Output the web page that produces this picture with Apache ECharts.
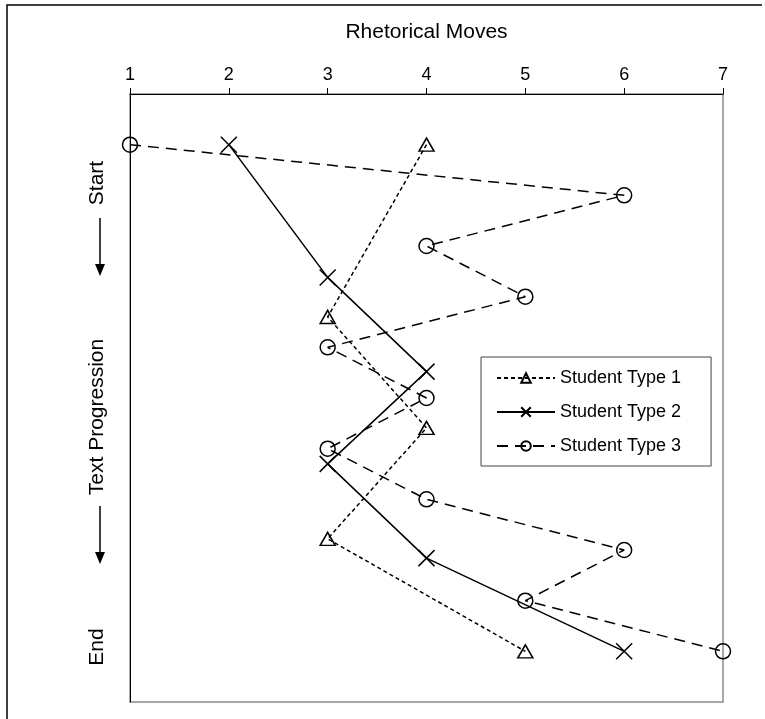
<!DOCTYPE html>
<html>
<head>
<meta charset="utf-8">
<script src="https://cdn.jsdelivr.net/npm/echarts@6/dist/echarts.min.js"></script>
<style>
html,body{margin:0;padding:0;background:#fff;}
#chart{width:765px;height:719px;}
</style>
</head>
<body>
<div id="chart"></div>
<script>
var moveTicks = [1, 2, 3, 4, 5, 6, 7];
var seriesNames = ['Student Type 1', 'Student Type 2', 'Student Type 3'];
// x = rhetorical move, y = position in text (0 = start, 10 = end)
var type1X = [4, 3, 4, 3, 5];
var type1Y = [0, 3.4, 5.59, 7.78, 10];
var type2X = [2, 3, 4, 3, 4, 6];
var type2Y = [0, 2.62, 4.48, 6.3, 8.16, 10];
var type3X = [1, 6, 4, 5, 3, 4, 3, 4, 6, 5, 7];
var type3Y = [0, 1, 2, 3, 4, 5, 6, 7, 8, 9, 10];

function pairs(xs, ys) {
    var out = [];
    for (var i = 0; i < xs.length; i++) out.push([xs[i], ys[i]]);
    return out;
}

var font = 'Liberation Sans, Arial, sans-serif';
var myChart = echarts.init(document.getElementById('chart'));

option = {
    backgroundColor: '#fff',
    animation: false,
    textStyle: {fontFamily: font},
    grid: {
        left: 130, right: 42, top: 94, bottom: 17,
        show: true, borderColor: '#8a8a8a', borderWidth: 1.5
    },
    legend: {
        orient: 'vertical',
        left: 481, top: 357,
        padding: [12, 30, 11, 15],
        itemGap: 16,
        itemWidth: 58, itemHeight: 12,
        backgroundColor: '#fff',
        borderColor: '#444', borderWidth: 1,
        textStyle: {fontFamily: font, fontSize: 18, color: '#000'},
        data: seriesNames
    },
    xAxis: {
        type: 'value',
        position: 'top',
        min: 1, max: 7, interval: 1,
        name: 'Rhetorical Moves',
        nameLocation: 'middle',
        nameGap: 51,
        nameTextStyle: {fontFamily: font, fontSize: 21, color: '#000'},
        axisLine: {onZero: false, lineStyle: {color: '#000', width: 1}},
        axisTick: {show: true, length: 6, lineStyle: {color: '#000'}},
        axisLabel: {fontFamily: font, fontSize: 18, color: '#000', margin: 10,
            formatter: function (v) { return moveTicks.indexOf(v) >= 0 ? String(v) : ''; }},
        splitLine: {show: false}
    },
    yAxis: {
        type: 'value',
        inverse: true,
        min: -1, max: 11,
        axisLine: {show: true, onZero: false, lineStyle: {color: '#000', width: 1}},
        axisTick: {show: false},
        axisLabel: {show: false},
        splitLine: {show: false}
    },
    graphic: [
        {type: 'polyline', silent: true, shape: {points: [[7, 719], [7, 5], [762, 5]]},
            style: {stroke: '#000', lineWidth: 1.5, fill: null}},
        {type: 'text', x: 97, y: 183, rotation: Math.PI / 2,
            style: {text: 'Start', font: '21px ' + font, fill: '#000', align: 'center', verticalAlign: 'middle'}},
        {type: 'line', shape: {x1: 100, y1: 218, x2: 100, y2: 266}, style: {stroke: '#000', lineWidth: 1.5}},
        {type: 'polygon', shape: {points: [[95, 264], [105, 264], [100, 276]]}, style: {fill: '#000'}},
        {type: 'text', x: 97, y: 417, rotation: Math.PI / 2,
            style: {text: 'Text Progression', font: '21px ' + font, fill: '#000', align: 'center', verticalAlign: 'middle'}},
        {type: 'line', shape: {x1: 100, y1: 506, x2: 100, y2: 554}, style: {stroke: '#000', lineWidth: 1.5}},
        {type: 'polygon', shape: {points: [[95, 552], [105, 552], [100, 564]]}, style: {fill: '#000'}},
        {type: 'text', x: 97, y: 647, rotation: Math.PI / 2,
            style: {text: 'End', font: '21px ' + font, fill: '#000', align: 'center', verticalAlign: 'middle'}}
    ],
    series: [
        {
            name: seriesNames[0],
            type: 'line',
            data: pairs(type1X, type1Y),
            symbol: 'triangle',
            symbolSize: [15, 13],
            lineStyle: {color: '#000', width: 1.5, type: [4, 3]},
            itemStyle: {color: 'rgba(0,0,0,0)', borderColor: '#000', borderWidth: 1.5}
        },
        {
            name: seriesNames[1],
            type: 'line',
            data: pairs(type2X, type2Y),
            symbol: 'path://M0,0L10,10M10,0L0,10',
            symbolSize: 16,
            lineStyle: {color: '#000', width: 1.5, type: 'solid'},
            itemStyle: {color: 'rgba(0,0,0,0)', borderColor: '#000', borderWidth: 1.5}
        },
        {
            name: seriesNames[2],
            type: 'line',
            data: pairs(type3X, type3Y),
            symbol: 'circle',
            symbolSize: 15,
            lineStyle: {color: '#000', width: 1.5, type: [11, 7]},
            itemStyle: {color: 'rgba(0,0,0,0)', borderColor: '#000', borderWidth: 1.5}
        }
    ]
};

myChart.setOption(option);
window.addEventListener('resize', function () {
    myChart.resize();
});
</script>
</body>
</html>
